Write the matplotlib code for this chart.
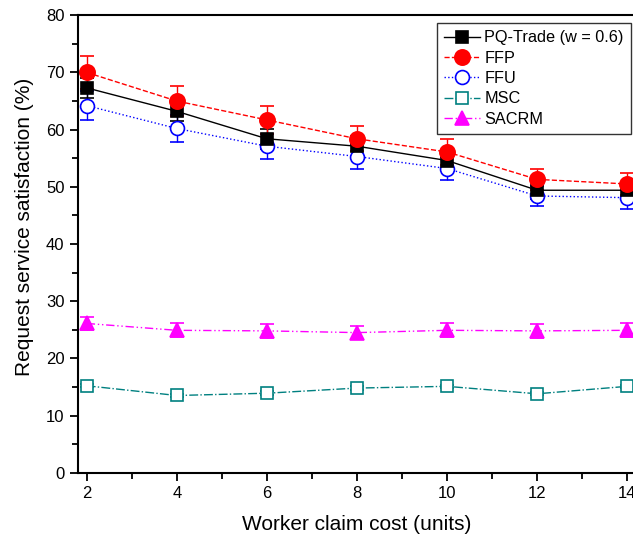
import matplotlib
matplotlib.use('agg')
from matplotlib import pyplot as plt
from matplotlib.lines import Line2D
from matplotlib.ticker import MultipleLocator

plt.rcParams['font.family'] = ['Liberation Sans', 'DejaVu Sans']

# 数据
cost = [2, 4, 6, 8, 10, 12, 14]
pq_trade = [67.3, 63.2, 58.4, 57.1, 54.6, 49.4, 49.4]
pq_trade_err = [1.7, 1.7, 1.7, 1.7, 1.6, 1.5, 1.5]
ffp = [70.0, 65.0, 61.7, 58.4, 56.1, 51.3, 50.5]
ffp_err = [2.9, 2.6, 2.5, 2.2, 2.2, 1.9, 1.9]
ffu = [64.2, 60.2, 57.1, 55.3, 53.2, 48.4, 48.1]
ffu_err = [2.5, 2.3, 2.2, 2.2, 2.0, 1.8, 2.0]
msc = [15.2, 13.5, 13.9, 14.8, 15.1, 13.8, 15.1]
msc_err = [0.3, 0.3, 0.3, 0.3, 0.3, 0.3, 0.3]
sacrm = [26.1, 24.9, 24.8, 24.5, 24.9, 24.8, 24.9]
sacrm_err = [1.2, 1.2, 1.2, 1.2, 1.2, 1.2, 1.2]

# 样式: (颜色, 线型, 标记, 标记大小, 填充)
styles = {
    'PQ-Trade (w = 0.6)': ('black', '-', 's', 9, 'black'),
    'FFP': ('#ff0000', '--', 'o', 11, '#ff0000'),
    'FFU': ('#0000ff', ':', 'o', 10, 'white'),
    'MSC': ('#008080', '-.', 's', 9, 'white'),
    'SACRM': ('#ff00ff', (0, (6, 2, 1, 2, 1, 2)), '^', 10, '#ff00ff'),
}
series = {
    'PQ-Trade (w = 0.6)': (pq_trade, pq_trade_err),
    'FFP': (ffp, ffp_err),
    'FFU': (ffu, ffu_err),
    'MSC': (msc, msc_err),
    'SACRM': (sacrm, sacrm_err),
}

fig = plt.figure(figsize=(6.33, 5.44), dpi=100)
ax = fig.add_axes([0.1228, 0.1311, 0.8822, 0.8408])

draw_order = ['MSC', 'SACRM', 'FFU', 'PQ-Trade (w = 0.6)', 'FFP']
for name in draw_order:
    color, ls, mk, ms, fc = styles[name]
    y, err = series[name]
    ax.errorbar(cost, y, yerr=err, color=color, ecolor=color, linestyle=ls, linewidth=1.0,
                marker=mk, markersize=ms, markerfacecolor=fc, markeredgecolor=color,
                markeredgewidth=1.2, capsize=5, elinewidth=1.0, capthick=1.0)

ax.set_xlim(1.8, 14.2)
ax.set_ylim(0, 80)
ax.xaxis.set_major_locator(MultipleLocator(2))
ax.xaxis.set_minor_locator(MultipleLocator(1))
ax.yaxis.set_major_locator(MultipleLocator(10))
ax.yaxis.set_minor_locator(MultipleLocator(5))
ax.tick_params(which='major', direction='out', length=6, width=1.3, labelsize=12)
ax.tick_params(which='minor', direction='out', length=4, width=1.3)
for s in ax.spines.values():
    s.set_linewidth(1.5)

ax.set_xlabel('Worker claim cost (units)', fontsize=15, labelpad=10)
ax.set_ylabel('Request service satisfaction (%)', fontsize=15)
ax.yaxis.set_label_coords(-0.079, 0.537)

# 图例 (不带误差线)
legend_order = ['PQ-Trade (w = 0.6)', 'FFP', 'FFU', 'MSC', 'SACRM']
handles = []
for name in legend_order:
    color, ls, mk, ms, fc = styles[name]
    handles.append(Line2D([], [], color=color, linestyle=ls, linewidth=1.0, marker=mk,
                          markersize=ms, markerfacecolor=fc, markeredgecolor=color,
                          markeredgewidth=1.2))
leg = ax.legend(handles, legend_order, loc='upper right', bbox_to_anchor=(0.991, 0.983),
                fontsize=11.7, frameon=True, fancybox=False, borderpad=0.45,
                labelspacing=0.33, handlelength=2.2, handletextpad=0.3, borderaxespad=0)
leg.get_frame().set_edgecolor('black')
leg.get_frame().set_linewidth(1.0)

plt.savefig('out.png', dpi=100)
